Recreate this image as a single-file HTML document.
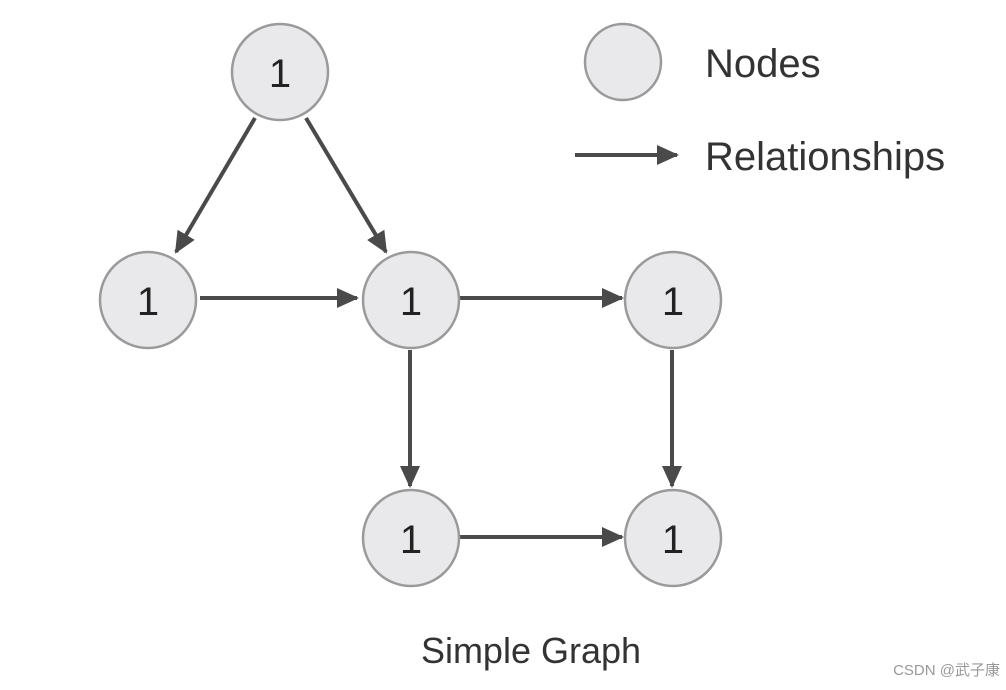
<!DOCTYPE html>
<html><head><meta charset="utf-8"><style>
html,body{margin:0;padding:0;background:#fff;}
svg{display:block;}
</style></head><body>
<svg width="1006" height="690" viewBox="0 0 1006 690" xmlns="http://www.w3.org/2000/svg">
<defs>
<marker id="a" markerWidth="10" markerHeight="10" refX="9" refY="5" orient="auto" markerUnits="userSpaceOnUse" viewBox="0 0 10 10">
<path d="M0,0 L10,5 L0,10 z" fill="#4a4a4a"/>
</marker>
<marker id="b" markerWidth="22" markerHeight="20" refX="20" refY="10" orient="auto" markerUnits="userSpaceOnUse" viewBox="0 0 22 20">
<path d="M0,0 L22,10 L0,20 z" fill="#4a4a4a"/>
</marker>
</defs>
<g stroke="#4a4a4a" stroke-width="4" fill="none">
<line x1="255" y1="118" x2="176" y2="252" marker-end="url(#b)"/>
<line x1="306" y1="118" x2="386" y2="252" marker-end="url(#b)"/>
<line x1="200" y1="298" x2="357" y2="298" marker-end="url(#b)"/>
<line x1="460" y1="298" x2="622" y2="298" marker-end="url(#b)"/>
<line x1="410" y1="350" x2="410" y2="486" marker-end="url(#b)"/>
<line x1="672" y1="350" x2="672" y2="486" marker-end="url(#b)"/>
<line x1="460" y1="537" x2="622" y2="537" marker-end="url(#b)"/>
<line x1="575" y1="155" x2="677" y2="155" marker-end="url(#b)"/>
</g>
<g fill="#e9e9ec" stroke="#9a9a9a" stroke-width="2.5">
<circle cx="280" cy="72" r="48"/>
<circle cx="148" cy="300" r="48"/>
<circle cx="411" cy="300" r="48"/>
<circle cx="673" cy="300" r="48"/>
<circle cx="411" cy="538" r="48"/>
<circle cx="673" cy="538" r="48"/>
<circle cx="623" cy="62" r="38"/>
</g>
<g font-family="Liberation Sans, sans-serif" font-size="40" fill="#222" text-anchor="middle">
<text x="280" y="87">1</text>
<text x="148" y="315">1</text>
<text x="411" y="315">1</text>
<text x="673" y="315">1</text>
<text x="411" y="553">1</text>
<text x="673" y="553">1</text>
</g>
<g font-family="Liberation Sans, sans-serif" fill="#333">
<text x="705" y="77" font-size="40">Nodes</text>
<text x="705" y="170" font-size="40">Relationships</text>
<text x="531" y="663" font-size="36" text-anchor="middle">Simple Graph</text>
<text x="1000" y="675" font-size="15" fill="#999" text-anchor="end" font-family="Liberation Sans, Noto Sans CJK SC, sans-serif">CSDN @武子康</text>
</g>
</svg>
</body></html>
